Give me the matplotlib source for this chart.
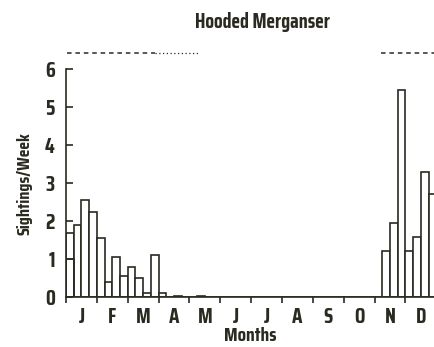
import matplotlib
matplotlib.use("Agg")
import matplotlib.pyplot as plt
import numpy as np

# weekly sightings, four weeks per month
months = ["J", "F", "M", "A", "M", "J", "J", "A", "S", "O", "N", "D"]
weekly = [1.7, 1.9, 2.55, 2.25,
          1.55, 0.4, 1.05, 0.55,
          0.8, 0.5, 0.12, 1.12,
          0.12, 0.0, 0.04, 0.0,
          0.0, 0.04, 0.0, 0.0,
          0, 0, 0, 0,
          0, 0, 0, 0,
          0, 0, 0, 0,
          0, 0, 0, 0,
          0, 0, 0, 0,
          0.0, 1.23, 1.95, 5.47,
          1.23, 1.6, 3.3, 2.72]
# extra level drawn inside the first bar
split_week = [0]
split_value = [1.0]
# presence lines above the plot (start week, end week)
dashed_spans = [(0.1, 11.6), (40.8, 48)]
dotted_spans = [(11.6, 17.4)]

plt.rcParams['font.family'] = ['Saira Condensed', 'DejaVu Sans']
plt.rcParams['font.weight'] = 'bold'
ink = '#2b2a20'

fig = plt.figure(figsize=(4.34, 3.47), dpi=100)
ax = fig.add_axes([0.152, 0.143, 0.848, 0.657])

x = np.arange(len(weekly))
ax.bar(x, weekly, width=1.0, align='edge', facecolor='white',
       edgecolor=ink, linewidth=1.2)
ax.bar(split_week, split_value, width=1.0, align='edge', facecolor='none',
       edgecolor=ink, linewidth=1.2)

for a, b in dashed_spans:
    ax.plot([a, b], [6.42, 6.42], ls=(0, (3, 2.5)), color=ink, lw=1.1,
            clip_on=False)
for a, b in dotted_spans:
    ax.plot([a, b], [6.42, 6.42], ls=(0, (1, 2)), color=ink, lw=0.9,
            clip_on=False)

ax.set_xlim(0, 47.7)
ax.set_ylim(0, 6)
for s in ['top', 'right']:
    ax.spines[s].set_visible(False)
for s in ['left', 'bottom']:
    ax.spines[s].set_color(ink)
    ax.spines[s].set_linewidth(1.2)

ax.set_yticks(range(7))
ax.tick_params(axis='y', direction='in', length=5, width=1.2, color=ink,
               labelsize=15, labelcolor=ink, pad=8)
ax.set_xticks(np.arange(0, 48, 4))
ax.set_xticklabels([])
ax.set_xticks(np.arange(2, 48, 4), minor=True)
ax.set_xticklabels(months, minor=True)
ax.tick_params(axis='x', which='major', direction='out', length=4, width=1.2,
               color=ink)
ax.tick_params(axis='x', which='minor', length=0, labelsize=15,
               labelcolor=ink, pad=7)

ax.set_xlabel("Months", fontsize=14, color=ink, fontweight='bold', labelpad=0)
ax.set_ylabel("Sightings/Week", fontsize=13, color=ink, fontweight='bold',
              labelpad=9)
fig.text(0.604, 0.937, "Hooded Merganser", ha='center', va='center',
         fontsize=14.5, color=ink, fontweight='bold')

fig.savefig("out.png", dpi=100)
